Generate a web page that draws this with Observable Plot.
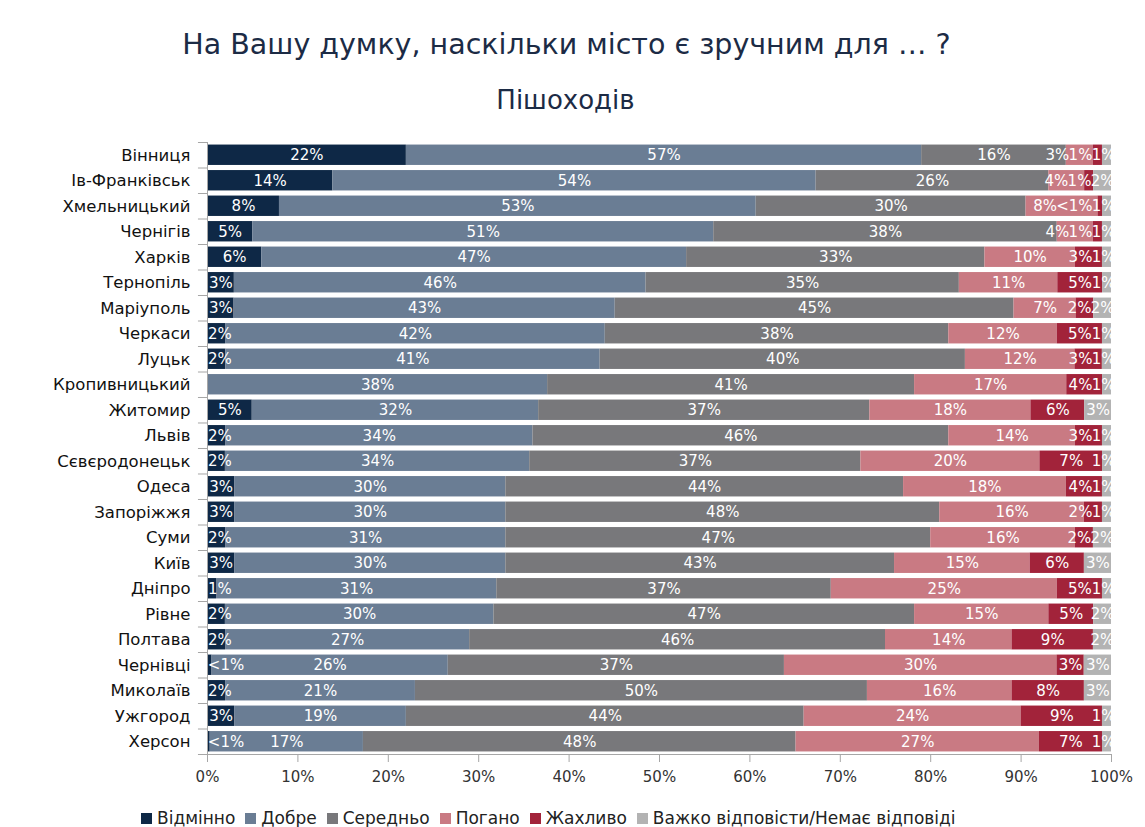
<!DOCTYPE html>
<html>
<head>
<meta charset="utf-8">
<script src="https://cdn.jsdelivr.net/npm/d3@7"></script>
<script src="https://cdn.jsdelivr.net/npm/@observablehq/plot@0.6"></script>
<style>
  body { margin: 0; background: #fff; font-family: "DejaVu Sans", sans-serif; }
  #wrap { position: relative; width: 1145px; }
  #header { position: relative; height: 120px; }
  #title { position: absolute; left: -6px; width: 1145px; top: 27px; text-align: center; font-size: 28.5px; line-height: 36px; color: #1c2b45; }
  #subtitle { position: absolute; left: -7px; width: 1145px; top: 84px; text-align: center; font-size: 26px; line-height: 32px; color: #1c2b45; }
  #legend { height: 48px; display: flex; align-items: center; padding-left: 141px; font-size: 17px; color: #222; }
  .item { display: flex; align-items: center; margin-right: 10px; }
  .sw { width: 11px; height: 11px; margin-right: 5px; }
</style>
</head>
<body>
<div id="wrap">
  <div id="header">
    <div id="title">На Вашу думку, наскільки місто є зручним для … ?</div>
    <div id="subtitle">Пішоходів</div>
  </div>
  <div id="chart"></div>
  <div id="legend"></div>
</div>
<script>
const cities = ["Вінниця","Ів-Франківськ","Хмельницький","Чернігів","Харків","Тернопіль","Маріуполь","Черкаси","Луцьк","Кропивницький","Житомир","Львів","Сєвєродонецьк","Одеса","Запоріжжя","Суми","Київ","Дніпро","Рівне","Полтава","Чернівці","Миколаїв","Ужгород","Херсон"];
const categories = ["Відмінно","Добре","Середньо","Погано","Жахливо","Важко відповісти/Немає відповіді"];
const colors = ["#0e2846","#6a7d94","#78787b","#c97a83","#a2233a","#b3b3b3"];

const vExcellent = [22,14,8,5,6,3,3,2,2,0,5,2,2,3,3,2,3,1,2,2,0.5,2,3,0.3];
const vGood      = [57,54,53,51,47,46,43,42,41,38,32,34,34,30,30,31,30,31,30,27,26,21,19,17];
const vAverage   = [16,26,30,38,33,35,45,38,40,41,37,46,37,44,48,47,43,37,47,46,37,50,44,48];
const vBad       = [3,4,8,4,10,11,7,12,12,17,18,14,20,18,16,16,15,25,15,14,30,16,24,27];
const vAwful     = [1,1,0.5,1,3,5,2,5,3,4,6,3,7,4,2,2,6,5,5,9,3,8,9,7];
const vDontKnow  = [1,2,1,1,1,1,2,1,1,1,3,1,1,1,1,2,3,1,2,2,3,3,1,1];
const xTicks = [0,0.1,0.2,0.3,0.4,0.5,0.6,0.7,0.8,0.9,1];

const series = [vExcellent, vGood, vAverage, vBad, vAwful, vDontKnow];
const rows = [];
cities.forEach((city, i) => series.forEach((s, j) => rows.push({city, cat: categories[j], value: s[i]})));

const fmt = v => v === 0 ? "" : v < 1 ? "<1%" : v + "%";
const LABEL_FS = 15;
const textW = t => {
  let w = 0;
  for (const c of t) w += c === "%" ? 0.95 : c === "<" ? 0.84 : 0.636;
  return w * LABEL_FS / 904 * 0.97;
};
const labels = [];
cities.forEach((city, i) => {
  const vals = series.map(s => s[i]);
  const total = d3.sum(vals);
  let acc = 0;
  const items = [];
  vals.forEach(v => {
    const a = acc / total; acc += v; const b = acc / total;
    const t = fmt(v);
    if (t) items.push({city, text: t, x: (a + b) / 2, w: textW(t)});
  });
  let limit = 1.004;
  for (let k = items.length - 1; k >= 0; k--) {
    const it = items[k];
    if (it.x + it.w / 2 > limit) it.x = limit - it.w / 2;
    limit = it.x - it.w / 2;
  }
  let lim = 0.001;
  for (const it of items) {
    if (it.x - it.w / 2 < lim) it.x = lim + it.w / 2;
    lim = it.x + it.w / 2;
  }
  labels.push(...items);
});

const chart = Plot.plot({
  width: 1145,
  height: 674,
  marginLeft: 207,
  marginRight: 34,
  marginTop: 22,
  marginBottom: 40,
  style: {fontFamily: "'DejaVu Sans', sans-serif", fontSize: "15px", color: "#333", background: "white", overflow: "visible"},
  x: {domain: [0, 1], label: null},
  y: {domain: cities, paddingInner: 0.2, paddingOuter: 0.1, round: false, label: null},
  color: {domain: categories, range: colors},
  marks: [
    Plot.barX(rows, Plot.stackX({x: "value", y: "city", fill: "cat", offset: "normalize"})),
    Plot.text(labels, {x: "x", y: "city", text: "text", fill: "white", fontSize: LABEL_FS}),
    Plot.ruleY(cities, {y: d => d, x1: -0.01, x2: 0, dy: -12.75, stroke: "#a6a6a6"}),
    Plot.ruleY([cities[cities.length - 1]], {y: d => d, x1: -0.01, x2: 1, dy: 12.75, stroke: "#a6a6a6"}),
    Plot.ruleX([0], {stroke: "#a6a6a6"}),
    Plot.axisX({ticks: xTicks, tickFormat: d3.format(".0%"), tickSize: 8, tickPadding: 9, fontSize: 15, stroke: "#a6a6a6", color: "#333"}),
    Plot.axisY({tickSize: 0, tickPadding: 17, fontSize: 16.5, color: "#111"})
  ]
});
document.getElementById("chart").appendChild(chart);

const legend = document.getElementById("legend");
categories.forEach((c, j) => {
  const it = document.createElement("div");
  it.className = "item";
  it.innerHTML = `<span class="sw" style="background:${colors[j]}"></span><span>${c}</span>`;
  legend.appendChild(it);
});
</script>
</body>
</html>
